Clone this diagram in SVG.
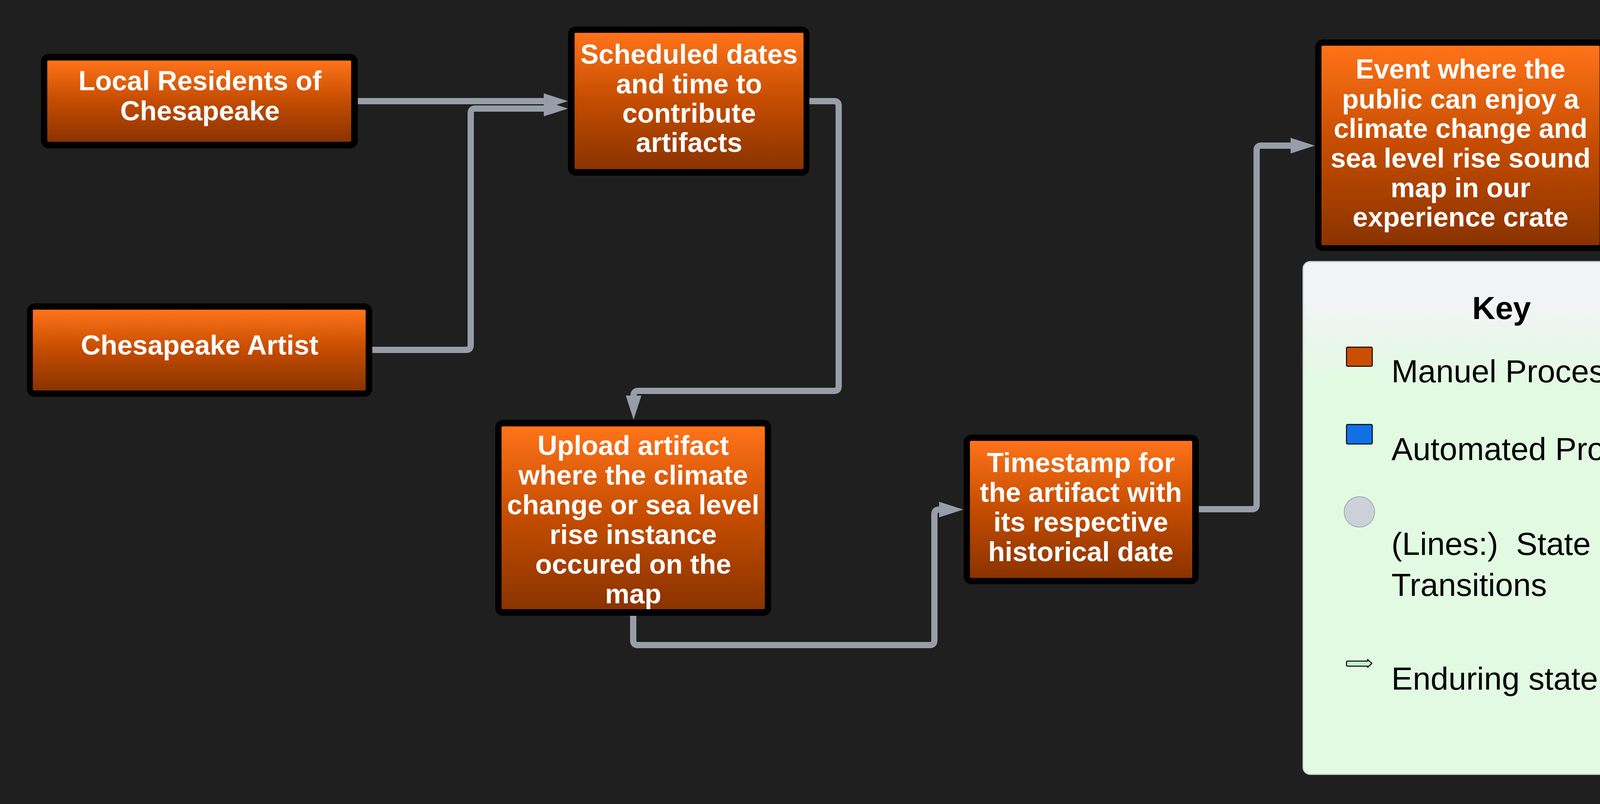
<svg xmlns="http://www.w3.org/2000/svg" width="4538" height="2059" viewBox="0 0 4538 2059">
<defs>
<linearGradient id="og" x1="0" y1="0" x2="0" y2="1">
<stop offset="0" stop-color="#ff7319"/>
<stop offset="0.5" stop-color="#c44c00"/>
<stop offset="1" stop-color="#8a3300"/>
</linearGradient>
<linearGradient id="kg" x1="0" y1="0" x2="0" y2="1">
<stop offset="0" stop-color="#f2f3f5"/>
<stop offset="0.08" stop-color="#f2f3f5"/>
<stop offset="0.23" stop-color="#e2fae2"/>
<stop offset="1" stop-color="#e2fae2"/>
</linearGradient>
<marker id="ah" markerUnits="userSpaceOnUse" markerWidth="62" markerHeight="40" refX="0" refY="20" orient="auto" viewBox="0 0 62 40">
<path d="M0,0 L62,20 L0,40 Z" fill="#979ea8"/>
</marker>
</defs>
<style>
.frame{fill:#000000}
.fill{fill:url(#og)}
.nt{font-family:"Liberation Sans",Arial,sans-serif;font-weight:bold;font-size:70px;fill:#ffffff;text-anchor:middle}
.conn{fill:none;stroke:#979ea8;stroke-width:16;stroke-linejoin:round;marker-end:url(#ah)}
.kt{font-family:"Liberation Sans",Arial,sans-serif;font-size:82px;fill:#000000}
</style>
<rect x="0" y="0" width="4538" height="2059" fill="#1f1f1f"/>

<g id="connectors">
<path class="conn" d="M916,259 H1392"/>
<path class="conn" d="M953,896 H1193 Q1205,896 1205,884 V290 Q1205,278 1217,278 H1392"/>
<path class="conn" d="M2072,259 H2135 Q2147,259 2147,271 V989 Q2147,1001 2135,1001 H1634 Q1622,1001 1622,1013"/>
<path class="conn" d="M1621,1577 V1640 Q1621,1652 1633,1652 H2380 Q2392,1652 2392,1640 V1317 Q2392,1305 2404,1305"/>
<path class="conn" d="M3069,1304 H3205 Q3217,1304 3217,1292 V385 Q3217,373 3229,373 H3304"/>
</g>

<g id="node-local-residents">
<rect class="frame" x="105" y="138" width="811" height="242" rx="20"/>
<rect class="fill" x="121" y="155" width="778" height="208" rx="3"/>
<text class="nt" x="512"><tspan x="512" y="231">Local Residents of</tspan><tspan x="512" y="308">Chesapeake</tspan></text>
</g>

<g id="node-chesapeake-artist">
<rect class="frame" x="69" y="777" width="884" height="239" rx="20"/>
<rect class="fill" x="84" y="793" width="852" height="207" rx="3"/>
<text class="nt" x="511" y="908">Chesapeake Artist</text>
</g>

<g id="node-scheduled">
<rect class="frame" x="1454" y="68" width="618" height="382" rx="20"/>
<rect class="fill" x="1471" y="84" width="586" height="349" rx="3"/>
<text class="nt"><tspan x="1764" y="163">Scheduled dates</tspan><tspan x="1764" y="239">and time to</tspan><tspan x="1764" y="314">contribute</tspan><tspan x="1764" y="389">artifacts</tspan></text>
</g>

<g id="node-upload">
<rect class="frame" x="1268" y="1075" width="706" height="502" rx="20"/>
<rect class="fill" x="1284" y="1092" width="674" height="468" rx="3"/>
<text class="nt"><tspan x="1621" y="1165">Upload artifact</tspan><tspan x="1621" y="1241">where the climate</tspan><tspan x="1621" y="1317">change or sea level</tspan><tspan x="1621" y="1393">rise instance</tspan><tspan x="1621" y="1469">occured on the</tspan><tspan x="1621" y="1545">map</tspan></text>
</g>

<g id="node-timestamp">
<rect class="frame" x="2467" y="1113" width="602" height="383" rx="20"/>
<rect class="fill" x="2483" y="1129" width="569" height="351" rx="3"/>
<text class="nt"><tspan x="2767" y="1209">Timestamp for</tspan><tspan x="2767" y="1285">the artifact with</tspan><tspan x="2767" y="1361">its respective</tspan><tspan x="2767" y="1437">historical date</tspan></text>
</g>

<g id="node-event">
<rect class="frame" x="3367" y="101" width="744" height="542" rx="20"/>
<rect class="fill" x="3383" y="117" width="712" height="511" rx="3"/>
<text class="nt"><tspan x="3739" y="201">Event where the</tspan><tspan x="3739" y="278">public can enjoy a</tspan><tspan x="3739" y="353">climate change and</tspan><tspan x="3739" y="429">sea level rise sound</tspan><tspan x="3739" y="505">map in our</tspan><tspan x="3739" y="580">experience crate</tspan></text>
</g>

<g id="key">
<rect x="3336" y="670" width="1128" height="1313" rx="18" fill="url(#kg)" stroke="#cfd3d8" stroke-width="3"/>
<text class="kt" x="3844" y="817" font-weight="bold" text-anchor="middle">Key</text>
<rect x="3447" y="889" width="66" height="49" rx="3" fill="#cc4e00" stroke="#000" stroke-width="2.5"/>
<text class="kt" x="3562" y="979">Manuel Process</text>
<rect x="3447" y="1087" width="66" height="50" rx="3" fill="#1071e5" stroke="#000" stroke-width="2.5"/>
<text class="kt" x="3562" y="1178">Automated Process</text>
<circle cx="3480" cy="1311" r="39" fill="#cdd2da" stroke="#a0a4a8" stroke-width="2"/>
<text class="kt" x="3562" y="1421" xml:space="preserve">(Lines:)  State</text>
<text class="kt" x="3562" y="1526">Transitions</text>
<path d="M3450,1693 H3501 V1689 L3512,1699 L3501,1709 V1706 H3450 Q3447,1706 3447,1703 V1696 Q3447,1693 3450,1693 Z" fill="#c2f4c8" stroke="#000" stroke-width="2.5" stroke-linejoin="round"/>
<text class="kt" x="3562" y="1766">Enduring state</text>
</g>
</svg>
